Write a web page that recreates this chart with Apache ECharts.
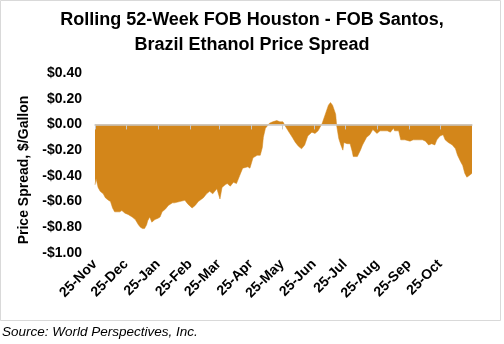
<!DOCTYPE html>
<html>
<head>
<meta charset="utf-8">
<script src="https://cdn.jsdelivr.net/npm/echarts@6/dist/echarts.min.js"></script>
<style>
  html, body { margin: 0; padding: 0; background: #fff; }
  #chart { width: 504px; height: 344px; }
</style>
</head>
<body>
<div id="chart"></div>
<script>
// Days elapsed since 25-Nov for each observation
const dayOffsets = [
  0, 1, 3, 5, 8, 10, 13, 15, 17, 19, 24, 26, 29, 32, 36, 39, 42, 44, 46, 48,
  50, 51, 53, 55, 58, 61, 63, 65, 68, 71, 75, 77, 82, 87, 90, 94, 97, 100, 105, 108,
  111, 114, 118, 121, 123, 126, 128, 131, 134, 137, 140, 143, 148, 150, 153, 157, 160, 162, 163, 165,
  167, 169, 172, 176, 179, 182, 184, 187, 191, 194, 197, 200, 203, 206, 210, 213, 216, 218, 220, 223,
  226, 228, 230, 233, 234, 236, 238, 240, 241, 244, 247, 249, 250, 254, 257, 259, 263, 266, 269, 273,
  276, 279, 283, 286, 289, 290, 294, 296, 300, 305, 308, 312, 317, 320, 323, 326, 329, 331, 334, 337,
  339, 342, 346, 349, 351, 354, 356, 358, 360, 362, 365
];

// Houston minus Santos spread, $/gallon
const spread = [
  -0.47, -0.42, -0.49, -0.52, -0.54, -0.57, -0.59, -0.60, -0.65, -0.68, -0.68, -0.67, -0.69, -0.70, -0.72, -0.74, -0.78, -0.80, -0.81, -0.81,
  -0.78, -0.75, -0.72, -0.76, -0.74, -0.73, -0.72, -0.68, -0.66, -0.63, -0.61, -0.61, -0.60, -0.59, -0.62, -0.65, -0.63, -0.60, -0.57, -0.54,
  -0.52, -0.54, -0.50, -0.58, -0.49, -0.47, -0.46, -0.48, -0.45, -0.46, -0.40, -0.34, -0.33, -0.34, -0.26, -0.24, -0.24, -0.18, -0.10, -0.03,
  -0.01, 0.01, 0.02, 0.03, 0.02, 0.02, -0.01, -0.05, -0.10, -0.14, -0.17, -0.19, -0.16, -0.09, -0.06, -0.07, -0.05, -0.02, 0.01, 0.08,
  0.15, 0.17, 0.15, 0.08, -0.01, -0.11, -0.16, -0.20, -0.14, -0.15, -0.15, -0.21, -0.25, -0.25, -0.20, -0.16, -0.10, -0.08, -0.04, -0.07,
  -0.05, -0.05, -0.05, -0.06, -0.03, -0.05, -0.05, -0.12, -0.12, -0.13, -0.12, -0.12, -0.12, -0.13, -0.16, -0.15, -0.16, -0.12, -0.09, -0.08,
  -0.12, -0.14, -0.16, -0.19, -0.24, -0.29, -0.32, -0.38, -0.41, -0.40, -0.38
];

// Month ticks (days since 25-Nov) and their labels
const tickDays = [0, 30, 61, 92, 120, 151, 181, 212, 242, 273, 304, 334];
const tickLabels = ['25-Nov', '25-Dec', '25-Jan', '25-Feb', '25-Mar', '25-Apr',
                    '25-May', '25-Jun', '25-Jul', '25-Aug', '25-Sep', '25-Oct'];

const FONT = '"Liberation Sans", Arial, sans-serif';
const AREA = '#D3861A';
const AXIS_GRAY = '#C8C8C8';

const chart = echarts.init(document.getElementById('chart'), null, { renderer: 'canvas' });

const fmtDollar = v => {
  const r = Math.round(v * 100) / 100;
  return (r < 0 ? '-$' : '$') + Math.abs(r).toFixed(2);
};

chart.setOption({
  animation: false,
  backgroundColor: '#ffffff',
  textStyle: { fontFamily: FONT },
  title: {
    text: 'Rolling 52-Week FOB Houston - FOB Santos,\nBrazil Ethanol Price Spread',
    left: 'center',
    top: 3,
    textStyle: { fontFamily: FONT, fontSize: 18, fontWeight: 'bold', color: '#000', lineHeight: 25 }
  },
  graphic: [
    {
      type: 'rect',
      shape: { x: 0.5, y: 0.5, width: 500, height: 320 },
      style: { fill: 'none', stroke: '#D9D9D9', lineWidth: 1 },
      silent: true
    },
    {
      type: 'text',
      left: 2,
      top: 325,
      style: {
        text: 'Source: World Perspectives, Inc.',
        font: 'italic 13.5px "Liberation Sans", Arial, sans-serif',
        fill: '#000'
      }
    }
  ],
  grid: { left: 95, right: 32, top: 73, height: 180, containLabel: false },
  xAxis: [
    {
      type: 'value',
      min: 0,
      max: 365,
      position: 'bottom',
      z: 10,
      axisLine: { show: true, onZero: true, lineStyle: { color: AXIS_GRAY, width: 1.5 } },
      axisTick: { show: true, length: 5, customValues: tickDays, lineStyle: { color: AXIS_GRAY, width: 1 } },
      axisLabel: { show: false },
      splitLine: { show: false }
    },
    {
      type: 'value',
      min: 0,
      max: 365,
      position: 'bottom',
      axisLine: { show: false, onZero: false },
      axisTick: { show: false },
      splitLine: { show: false },
      axisLabel: {
        show: true,
        customValues: tickDays,
        rotate: 45,
        margin: 9,
        color: '#000',
        fontFamily: FONT,
        fontSize: 14,
        fontWeight: 'bold',
        formatter: v => {
          const i = tickDays.indexOf(Math.round(v));
          return i >= 0 ? tickLabels[i] : '';
        }
      }
    }
  ],
  yAxis: {
    type: 'value',
    min: -1,
    max: 0.4,
    interval: 0.2,
    name: 'Price Spread, $/Gallon',
    nameLocation: 'middle',
    nameGap: 54,
    nameTextStyle: { fontFamily: FONT, fontSize: 14, fontWeight: 'bold', color: '#000', padding: [0, 0, 0, -14] },
    axisLine: { show: false },
    axisTick: { show: false },
    splitLine: { show: false },
    axisLabel: {
      margin: 13,
      color: '#000',
      fontFamily: FONT,
      fontSize: 14,
      fontWeight: 'bold',
      formatter: fmtDollar
    }
  },
  series: [
    {
      type: 'line',
      xAxisIndex: 0,
      data: dayOffsets.map((d, i) => [d, spread[i]]),
      symbol: 'none',
      lineStyle: { width: 0.5, color: AREA },
      areaStyle: { color: AREA, opacity: 1, origin: 0 },
      z: 2
    }
  ]
});
</script>
</body>
</html>
